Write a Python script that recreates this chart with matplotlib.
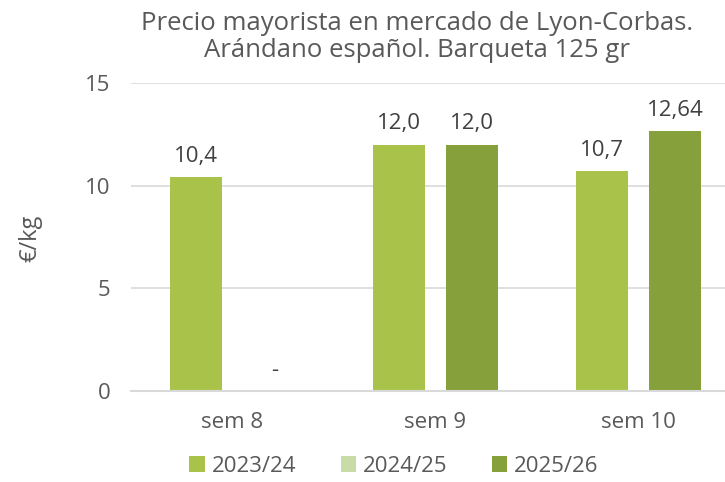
import numpy as np
import matplotlib.pyplot as plt
from matplotlib.patches import Patch

weeks = ['sem 8', 'sem 9', 'sem 10']
seasons = ['2023/24', '2024/25', '2025/26']
price_2324 = [10.4, 12.0, 10.7]
price_2425 = [None, None, None]
price_2526 = [None, 12.0, 12.64]
labels_2324 = ['10,4', '12,0', '10,7']
labels_2526 = ['-', '12,0', '12,64']

colors = ['#a9c34a', '#c9dba6', '#86a03c']
text_col = '#595959'

plt.rcParams['font.family'] = ['Open Sans', 'DejaVu Sans']

fig = plt.figure(figsize=(7.25, 4.82), dpi=100)
ax = fig.add_axes([131 / 725, 1 - 391 / 482, 609 / 725, 308 / 482])

x = np.arange(len(weeks))
w = 0.256
off = 0.18

for i in range(len(weeks)):
    v = price_2324[i]
    ax.bar(x[i] - off, v, w, color=colors[0], zorder=3)
    ax.text(x[i] - off, v + 0.5, labels_2324[i], ha='center', va='bottom',
            fontsize=16, color='#404040')
    v2 = price_2526[i]
    if v2 is None:
        ax.text(x[i] + off + 0.03, 1.0, labels_2526[i], ha='center', va='center',
                fontsize=16, color='#404040')
    else:
        ax.bar(x[i] + off, v2, w, color=colors[2], zorder=3)
        ax.text(x[i] + off, v2 + 0.5, labels_2526[i], ha='center', va='bottom',
                fontsize=16, color='#404040')

ax.set_xlim(-0.5, 2.5)
ax.set_ylim(0, 15)
ax.set_yticks([0, 5, 10, 15])
ax.set_xticks(x)
ax.set_xticklabels(weeks)
ax.tick_params(axis='both', length=0, labelsize=16, colors=text_col)
ax.tick_params(axis='y', pad=15)
ax.tick_params(axis='x', pad=15)
ax.yaxis.grid(True, color='#d9d9d9', linewidth=1.2, zorder=0)
for s in ['top', 'right', 'left']:
    ax.spines[s].set_visible(False)
ax.spines['bottom'].set_color('#d9d9d9')
ax.spines['bottom'].set_linewidth(1.5)
ax.spines['bottom'].set_zorder(4)

fig.text(30 / 725, 1 - 238 / 482, '€/kg', rotation=90, ha='center', va='center',
         fontsize=17, color=text_col)
fig.text(417 / 725, 1 - 37 / 482,
         'Precio mayorista en mercado de Lyon-Corbas.\nArándano español. Barqueta 125 gr',
         ha='center', va='center', fontsize=18.5, color=text_col, linespacing=1.15)

handles = [Patch(facecolor=c) for c in colors]
fig.legend(handles, seasons, loc='center', bbox_to_anchor=(394 / 725, 1 - 466 / 482),
           ncol=3, frameon=False, fontsize=16, handlelength=0.7, handleheight=0.7,
           handletextpad=0.3, columnspacing=2.0, labelcolor=text_col)

fig.savefig('out.png', dpi=100)
